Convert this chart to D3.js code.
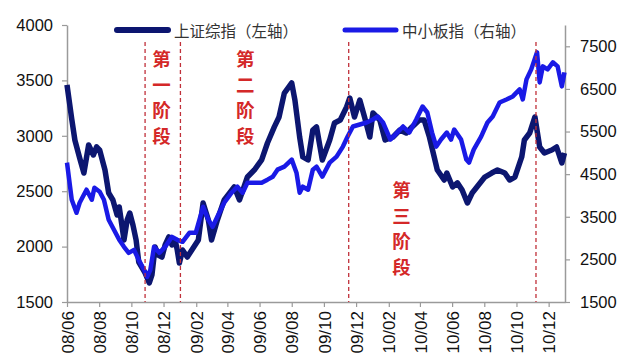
<!DOCTYPE html>
<html>
<head>
<meta charset="utf-8">
<script src="https://cdn.jsdelivr.net/npm/d3@7/dist/d3.min.js"></script>
<style>
html,body{margin:0;padding:0;background:#fff;}
svg{display:block;}
</style>
</head>
<body>
<svg id="chart" width="640" height="360"></svg>
<script>
// ---- data ----
const seriesNames = ["上证综指（左轴）", "中小板指（右轴）"];

const shDates = [
"2008-06-01","2008-06-10","2008-06-16","2008-06-25","2008-07-03","2008-07-12","2008-07-21","2008-07-27","2008-08-02","2008-08-12",
"2008-08-19","2008-08-27","2008-09-04","2008-09-08","2008-09-13","2008-09-17","2008-09-23","2008-09-28","2008-10-04","2008-10-10",
"2008-10-15","2008-10-27","2008-11-04","2008-11-09","2008-11-15","2008-11-21","2008-11-28","2008-12-04","2008-12-11","2008-12-17",
"2008-12-23","2008-12-27","2008-12-31","2009-01-06","2009-01-15","2009-02-05","2009-02-14","2009-02-24","2009-03-02","2009-03-13",
"2009-03-26","2009-04-14","2009-04-24","2009-05-09","2009-05-22","2009-06-05","2009-06-16","2009-06-29","2009-07-08","2009-07-18",
"2009-08-01","2009-08-07","2009-08-16","2009-08-22","2009-09-01","2009-09-10","2009-09-17","2009-09-28","2009-10-12","2009-10-21",
"2009-11-01","2009-11-13","2009-11-19","2009-11-28","2009-12-08","2009-12-17","2009-12-27","2010-01-02","2010-01-15","2010-01-25",
"2010-02-09","2010-02-22","2010-03-06","2010-03-17","2010-03-31","2010-04-09","2010-04-19","2010-04-28","2010-05-04","2010-05-17",
"2010-05-22","2010-06-02","2010-06-11","2010-06-20","2010-06-30","2010-07-09","2010-07-18","2010-08-02","2010-08-15","2010-08-26",
"2010-09-09","2010-09-18","2010-09-28","2010-10-11","2010-10-16","2010-10-26","2010-11-05","2010-11-14","2010-11-23","2010-12-07",
"2010-12-16","2010-12-26","2010-12-31"];
const shValues = [
3460,3150,2960,2800,2664,2917,2827,2900,2870,2691,
2484,2421,2285,2358,2195,2060,2240,2303,2195,2060,
1861,1762,1672,1744,1997,1924,1906,2015,2087,2015,
2060,1969,1852,1969,1906,2060,2394,2240,2060,2240,
2421,2538,2421,2628,2691,2782,2935,3080,3170,3386,
3477,3323,2989,2809,2782,3052,3080,2782,2962,3116,
3143,3260,3341,3170,3323,3170,2989,3206,3143,2962,
2989,3052,3025,3080,3143,3143,2989,2809,2691,2601,
2664,2538,2575,2511,2394,2484,2538,2628,2664,2691,
2664,2601,2628,2809,2962,3025,3170,2899,2845,2872,
2899,2755,2845];

const smeDates = [
"2008-06-01","2008-06-10","2008-06-19","2008-06-25","2008-07-08","2008-07-18","2008-07-23","2008-08-02","2008-08-10","2008-08-19",
"2008-08-29","2008-09-08","2008-09-17","2008-09-26","2008-10-06","2008-10-15","2008-10-25","2008-10-31","2008-11-06","2008-11-13",
"2008-11-23","2008-12-04","2008-12-17","2008-12-27","2009-01-06","2009-01-19","2009-01-31","2009-02-14","2009-02-24","2009-03-04",
"2009-03-13","2009-03-26","2009-04-09","2009-04-20","2009-04-30","2009-05-09","2009-05-22","2009-06-05","2009-06-16","2009-06-26",
"2009-07-05","2009-07-18","2009-08-01","2009-08-10","2009-08-16","2009-08-22","2009-09-01","2009-09-10","2009-09-17","2009-09-28",
"2009-10-12","2009-10-25","2009-11-06","2009-11-15","2009-11-25","2009-12-08","2009-12-21","2010-01-02","2010-01-11","2010-01-21",
"2010-02-04","2010-02-17","2010-02-28","2010-03-12","2010-03-25","2010-04-06","2010-04-15","2010-04-24","2010-05-02","2010-05-11",
"2010-05-22","2010-05-30","2010-06-05","2010-06-18","2010-06-28","2010-07-03","2010-07-12","2010-07-26","2010-08-07","2010-08-17",
"2010-08-30","2010-09-12","2010-09-24","2010-10-07","2010-10-13","2010-10-20","2010-10-29","2010-11-09","2010-11-14","2010-11-20",
"2010-11-29","2010-12-09","2010-12-18","2010-12-26","2010-12-31"];
const smeValues = [
4770,3900,3594,3829,4135,3900,4182,4088,3900,3429,
3194,2959,2794,2653,2723,2488,2253,2088,2253,2794,
2653,2794,3029,2959,2912,3124,3124,3735,3429,3265,
3500,3829,4065,4206,4065,4300,4300,4300,4371,4441,
4606,4676,4841,4535,4065,4206,4135,4606,4676,4441,
4771,4912,5147,5382,5618,5665,5712,5782,5853,5712,
5312,5476,5618,5476,5782,6088,5947,5476,5147,5312,
5476,5312,5547,5312,4841,4771,5076,5382,5712,5853,
6182,6253,6324,6488,6253,6724,6959,7359,6653,7029,
6959,7124,7029,6559,6888];

const xTickLabels = ["08/06","08/08","08/10","08/12","09/02","09/04","09/06","09/08","09/10","09/12","10/02","10/04","10/06","10/08","10/10","10/12"];
const leftTicks = [1500,2000,2500,3000,3500,4000];
const rightTicks = [1500,2500,3500,4500,5500,6500,7500];
const phaseDates = ["2008-10-27","2009-01-02","2009-11-17","2010-11-07"];
const phaseLabels = ["第一阶段","第二阶段","第三阶段"];

// ---- chart ----
const parse = d3.timeParse("%Y-%m-%d");
const parseTick = d3.timeParse("%y/%m");
const svg = d3.select("#chart");
const W = 640, H = 360;
const m = {left:67, right:75, top:25, bottom:58};
const x0 = m.left, x1 = W - m.right, y0 = H - m.bottom, y1 = m.top;

const x = d3.scaleTime().domain([parse("2008-06-01"), parse("2011-01-01")]).range([x0, x1]);
const yL = d3.scaleLinear().domain([1500, 4000]).range([y0, y1]);
const yR = d3.scaleLinear().domain([1500, 8000]).range([y0, y1]);

const sh = shDates.map((d,i)=>({date:parse(d), v:shValues[i]}));
const sme = smeDates.map((d,i)=>({date:parse(d), v:smeValues[i]}));

const axisColor = "#9a9a9a";
const tickFont = "'Liberation Sans', Arial, sans-serif";

function styleAxis(g){
  g.selectAll(".domain").attr("stroke", axisColor).attr("stroke-width", 1.5);
  g.selectAll(".tick line").attr("stroke", axisColor).attr("stroke-width", 1.2);
  g.selectAll(".tick text").attr("fill", "#111").style("font-family", tickFont).style("font-size", "16.5px");
}

// left axis
const gL = svg.append("g").attr("transform", `translate(${x0},0)`)
  .call(d3.axisLeft(yL).tickValues(leftTicks).tickFormat(d3.format("d")).tickSize(5).tickSizeOuter(0).tickPadding(9));
styleAxis(gL);

// right axis
const gR = svg.append("g").attr("transform", `translate(${x1},0)`)
  .call(d3.axisRight(yR).tickValues(rightTicks).tickFormat(d3.format("d")).tickSize(5).tickSizeOuter(0).tickPadding(10));
styleAxis(gR);

// bottom axis
const gB = svg.append("g").attr("transform", `translate(0,${y0})`)
  .call(d3.axisBottom(x).tickValues(xTickLabels.map(t=>parseTick(t))).tickFormat(d3.timeFormat("%y/%m")).tickSize(5).tickSizeOuter(0));
styleAxis(gB);
gB.selectAll(".tick text")
  .attr("transform", "rotate(-90)")
  .attr("text-anchor", "end")
  .attr("x", -9).attr("y", 0).attr("dy", "0.36em")
  .style("font-size", "17px");

// lines
const lineL = d3.line().x(d=>x(d.date)).y(d=>yL(d.v)).curve(d3.curveLinear);
const lineR = d3.line().x(d=>x(d.date)).y(d=>yR(d.v)).curve(d3.curveLinear);

const navy = "#0c1670";
const blue = "#1a1ae6";

svg.append("path").datum(sh).attr("d", lineL)
  .attr("fill","none").attr("stroke", navy).attr("stroke-width", 5.5).attr("stroke-linejoin","round");
svg.append("path").datum(sme).attr("d", lineR)
  .attr("fill","none").attr("stroke", blue).attr("stroke-width", 4.5).attr("stroke-linejoin","round");

// phase dashed lines
svg.append("g").selectAll("line").data(phaseDates).join("line")
  .attr("x1", d=>x(parse(d))).attr("x2", d=>x(parse(d)))
  .attr("y1", 42).attr("y2", y0)
  .attr("stroke", "#c0303a").attr("stroke-width", 1.3).attr("stroke-dasharray", "4,3");

// phase labels (vertical text)
const phasePos = [
  {cx: x(parse("2008-11-27")), top: 58},
  {cx: x(parse("2009-05-05")), top: 58},
  {cx: x(parse("2010-02-25")), top: 189}
];
phaseLabels.forEach((lab,i)=>{
  const g = svg.append("g");
  Array.from(lab).forEach((ch,j)=>{
    g.append("text").text(ch)
      .attr("x", phasePos[i].cx).attr("y", phasePos[i].top + j*25.7)
      .attr("text-anchor","middle").attr("dominant-baseline","central")
      .style("font-family","'Noto Sans CJK SC', sans-serif")
      .style("font-weight","700").style("font-size","18.5px")
      .attr("fill","#d42828");
  });
});

// legend
const legend = [
  {name: seriesNames[0], color: navy, w: 6, lx: 117},
  {name: seriesNames[1], color: blue, w: 5, lx: 345}
];
legend.forEach(l=>{
  svg.append("line").attr("x1", l.lx).attr("x2", l.lx+51).attr("y1", 30).attr("y2", 30)
    .attr("stroke", l.color).attr("stroke-width", l.w).attr("stroke-linecap","round");
  svg.append("text").text(l.name).attr("x", l.lx+57).attr("y", 30)
    .attr("dominant-baseline","central")
    .style("font-family","'Noto Sans CJK SC', sans-serif").style("font-size","15.5px")
    .attr("fill","#333");
});
</script>
</body>
</html>
